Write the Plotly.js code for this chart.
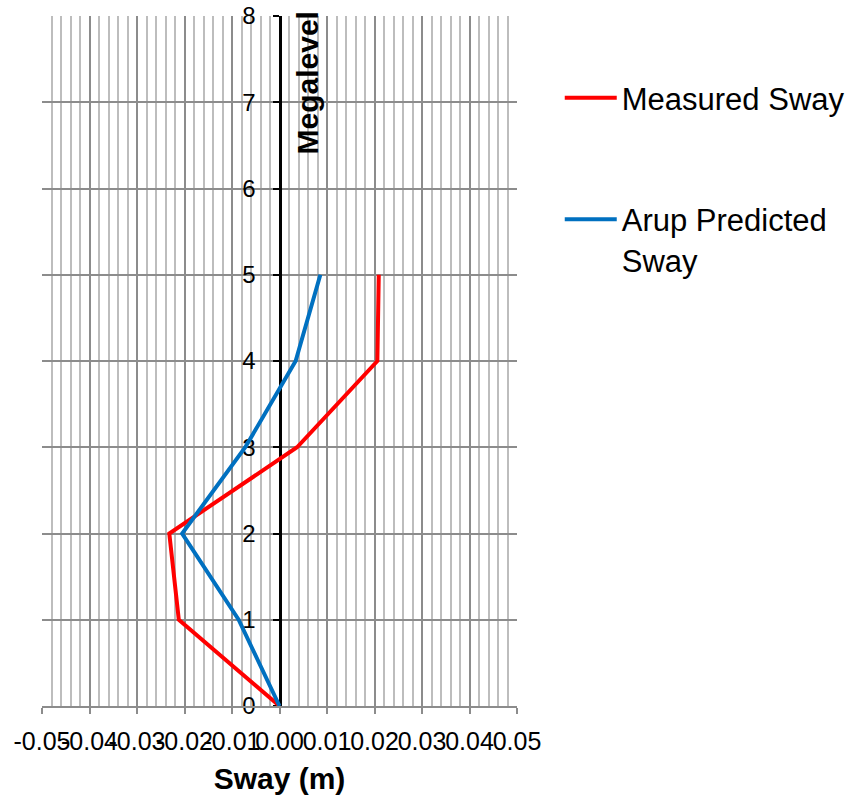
<!DOCTYPE html>
<html>
<head>
<meta charset="utf-8">
<script src="https://cdn.plot.ly/plotly-3.0.1.min.js"></script>
<style>html,body{margin:0;padding:0;background:#fff;}#chart{width:857px;height:802px;}</style>
</head>
<body>
<div id="chart"></div>
<script>
// Data
const megalevels = [0, 1, 2, 3, 4, 5];
const measuredSway = [0, -0.0212, -0.0232, 0.0037, 0.0206, 0.0209];
const predictedSway = [0, -0.0086, -0.0205, -0.0072, 0.0034, 0.0086];
const seriesNames = ['Measured Sway', 'Arup Predicted<br>Sway'];
const xTickVals = [-0.05, -0.04, -0.03, -0.02, -0.01, 0, 0.01, 0.02, 0.03, 0.04, 0.05];
const xTickText = ['-0.05', '-0.04', '-0.03', '-0.02', '-0.01', '0.00', '0.01', '0.02', '0.03', '0.04', '0.05'];
const yTickVals = [0, 1, 2, 3, 4, 5, 6, 7, 8];

const FONT = 'Liberation Sans, Arial, sans-serif';

const traces = [
  {
    x: measuredSway, y: megalevels, type: 'scatter', mode: 'lines',
    name: seriesNames[0], legendgroup: 'a',
    line: {color: '#FF0000', width: 4}
  },
  {
    x: predictedSway, y: megalevels, type: 'scatter', mode: 'lines',
    name: seriesNames[1], legendgroup: 'b',
    line: {color: '#0070C0', width: 4}
  }
];

const layout = {
  width: 857, height: 802,
  margin: {l: 42, r: 340, t: 16, b: 96, autoexpand: false},
  paper_bgcolor: '#fff', plot_bgcolor: '#fff',
  font: {family: FONT, color: '#000', size: 24},
  showlegend: true,
  legend: {
    x: 1.09, xanchor: 'left', y: 0.92, yanchor: 'top',
    font: {family: FONT, size: 31, color: '#000'},
    itemwidth: 52, tracegroupgap: 78, valign: 'top',
    bgcolor: 'rgba(0,0,0,0)', borderwidth: 0
  },
  xaxis: {
    range: [-0.05, 0.05],
    tickvals: xTickVals, ticktext: xTickText, tickangle: 0,
    tickfont: {family: FONT, size: 25, color: '#000'},
    showgrid: true, gridcolor: '#8c8c8c', gridwidth: 2,
    minor: {dtick: 0.002, showgrid: true, gridcolor: '#bdbdbd', gridwidth: 2},
    zeroline: false,
    showline: true, linecolor: '#8c8c8c', linewidth: 2,
    ticks: 'outside', ticklen: 6, tickcolor: '#8c8c8c', tickwidth: 2,
    ticklabelstandoff: 6,
    title: {text: '<b>Sway (m)</b>', font: {family: FONT, size: 30, color: '#000'}, standoff: 14},
    automargin: false,
    fixedrange: true
  },
  yaxis: {
    range: [0, 8],
    tickvals: yTickVals,
    tickfont: {family: FONT, size: 24, color: '#000'},
    showgrid: true, gridcolor: '#8c8c8c', gridwidth: 2,
    zeroline: false,
    anchor: 'free', position: 0.5,
    showline: true, linecolor: '#000', linewidth: 3,
    ticks: 'outside', ticklen: 6, tickcolor: '#000', tickwidth: 2,
    ticklabelstandoff: 12,
    layer: 'below traces',
    automargin: false,
    fixedrange: true
  },
  annotations: [{
    text: '<b>Megalevel</b>', xref: 'paper', yref: 'paper',
    x: 0.5, y: 1, xanchor: 'left', yanchor: 'top', xshift: 9, yshift: 6,
    textangle: -90, showarrow: false,
    font: {family: FONT, size: 30, color: '#000'}
  }]
};

Plotly.newPlot('chart', traces, layout, {displayModeBar: false, staticPlot: true});
</script>
</body>
</html>
